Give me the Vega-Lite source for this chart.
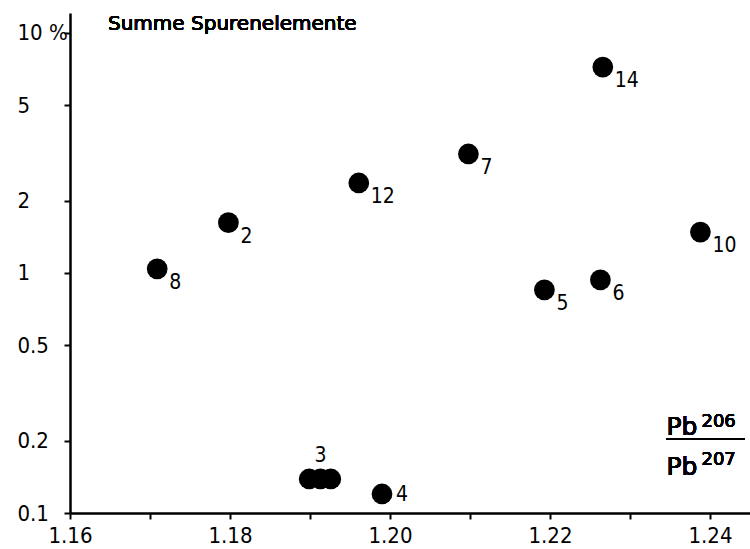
{
  "$schema": "https://vega.github.io/schema/vega-lite/v6.json",
  "width": 680,
  "height": 500,
  "autosize": {"type": "none"},
  "padding": {"left": 70, "top": 13, "right": 0, "bottom": 36},
  "background": "white",
  "config": {
    "view": {"stroke": null},
    "axis": {
      "grid": false,
      "domainColor": "black",
      "tickColor": "black",
      "labelColor": "black",
      "domainWidth": 2.5,
      "tickWidth": 2,
      "tickSize": 6,
      "labelFont": "DejaVu Sans Condensed, DejaVu Sans, sans-serif",
      "labelFontSize": 22,
      "labelFontWeight": 400,
      "title": null
    },
    "text": {"font": "DejaVu Sans Condensed, DejaVu Sans, sans-serif", "color": "black", "fontWeight": 400}
  },
  "data": {
    "values": [
      {"nr": "8", "ratio": 1.1709, "summe": 1.04},
      {"nr": "2", "ratio": 1.1798, "summe": 1.62},
      {"nr": "12", "ratio": 1.1961, "summe": 2.37},
      {"nr": "7", "ratio": 1.2098, "summe": 3.13},
      {"nr": "14", "ratio": 1.2266, "summe": 7.2},
      {"nr": "10", "ratio": 1.2388, "summe": 1.48},
      {"nr": "5", "ratio": 1.2193, "summe": 0.85},
      {"nr": "6", "ratio": 1.2263, "summe": 0.935},
      {"nr": "3", "ratio": 1.1899, "summe": 0.1386},
      {"nr": "3", "ratio": 1.1913, "summe": 0.1386},
      {"nr": "3", "ratio": 1.1926, "summe": 0.1386},
      {"nr": "4", "ratio": 1.199, "summe": 0.12}
    ]
  },
  "layer": [
    {
      "mark": {"type": "point", "filled": true, "color": "black", "opacity": 1, "size": 430},
      "encoding": {
        "x": {
          "field": "ratio",
          "type": "quantitative",
          "scale": {"domain": [1.16, 1.245], "nice": false, "zero": false},
          "axis": {
            "values": [1.16, 1.17, 1.18, 1.19, 1.2, 1.21, 1.22, 1.23, 1.24],
            "format": ".2f",
            "labelExpr": "round(datum.value*100) % 2 == 0 ? datum.label : ''",
            "labelPadding": 6,
            "labelFlush": false
          }
        },
        "y": {
          "field": "summe",
          "type": "quantitative",
          "scale": {"type": "log", "domain": [0.1, 12.1], "nice": false},
          "axis": {
            "values": [0.1, 0.2, 0.5, 1, 2, 5, 10],
            "labelExpr": "datum.value == 10 ? '10 %' : format(datum.value, '~g')",
            "labelAlign": "left",
            "labelPadding": 47,
            "labelBaseline": "middle"
          }
        }
      }
    },
    {
      "transform": [{"filter": "datum.nr != '3' && datum.nr != '4'"}],
      "mark": {"type": "text", "align": "left", "baseline": "middle", "dx": 12, "dy": 14, "fontSize": 21},
      "encoding": {
        "x": {"field": "ratio", "type": "quantitative"},
        "y": {"field": "summe", "type": "quantitative"},
        "text": {"field": "nr"}
      }
    },
    {
      "transform": [{"filter": "datum.nr == '4'"}],
      "mark": {"type": "text", "align": "left", "baseline": "middle", "dx": 14, "dy": 1, "fontSize": 21},
      "encoding": {
        "x": {"field": "ratio", "type": "quantitative"},
        "y": {"field": "summe", "type": "quantitative"},
        "text": {"field": "nr"}
      }
    },
    {
      "transform": [{"filter": "datum.nr == '3' && datum.ratio > 1.191 && datum.ratio < 1.192"}],
      "mark": {"type": "text", "align": "center", "baseline": "middle", "dy": -23, "fontSize": 21},
      "encoding": {
        "x": {"field": "ratio", "type": "quantitative"},
        "y": {"field": "summe", "type": "quantitative"},
        "text": {"field": "nr"}
      }
    },
    {
      "mark": {"type": "text", "align": "left", "baseline": "alphabetic", "fontSize": 20, "font": "DejaVu Sans", "fontWeight": 400},
      "encoding": {
        "x": {"datum": 1.16475, "type": "quantitative"},
        "y": {"datum": 10.29, "type": "quantitative"},
        "text": {"value": "Summe Spurenelemente"}
      }
    },
    {
      "mark": {"type": "text", "align": "left", "baseline": "alphabetic", "fontSize": 25, "font": "DejaVu Sans", "fontWeight": 400},
      "encoding": {
        "x": {"datum": 1.23456, "type": "quantitative"},
        "y": {"datum": 0.211, "type": "quantitative"},
        "text": {"value": "Pb"}
      }
    },
    {
      "mark": {"type": "text", "align": "left", "baseline": "alphabetic", "fontSize": 18, "font": "DejaVu Sans", "fontWeight": 400},
      "encoding": {
        "x": {"datum": 1.23893, "type": "quantitative"},
        "y": {"datum": 0.228, "type": "quantitative"},
        "text": {"value": "206"}
      }
    },
    {
      "mark": {"type": "rule", "color": "black", "strokeWidth": 2},
      "encoding": {
        "x": {"datum": 1.23456, "type": "quantitative"},
        "x2": {"datum": 1.24429},
        "y": {"datum": 0.2034, "type": "quantitative"}
      }
    },
    {
      "mark": {"type": "text", "align": "left", "baseline": "alphabetic", "fontSize": 25, "font": "DejaVu Sans", "fontWeight": 400},
      "encoding": {
        "x": {"datum": 1.23456, "type": "quantitative"},
        "y": {"datum": 0.144, "type": "quantitative"},
        "text": {"value": "Pb"}
      }
    },
    {
      "mark": {"type": "text", "align": "left", "baseline": "alphabetic", "fontSize": 18, "font": "DejaVu Sans", "fontWeight": 400},
      "encoding": {
        "x": {"datum": 1.23893, "type": "quantitative"},
        "y": {"datum": 0.158, "type": "quantitative"},
        "text": {"value": "207"}
      }
    }
  ]
}
